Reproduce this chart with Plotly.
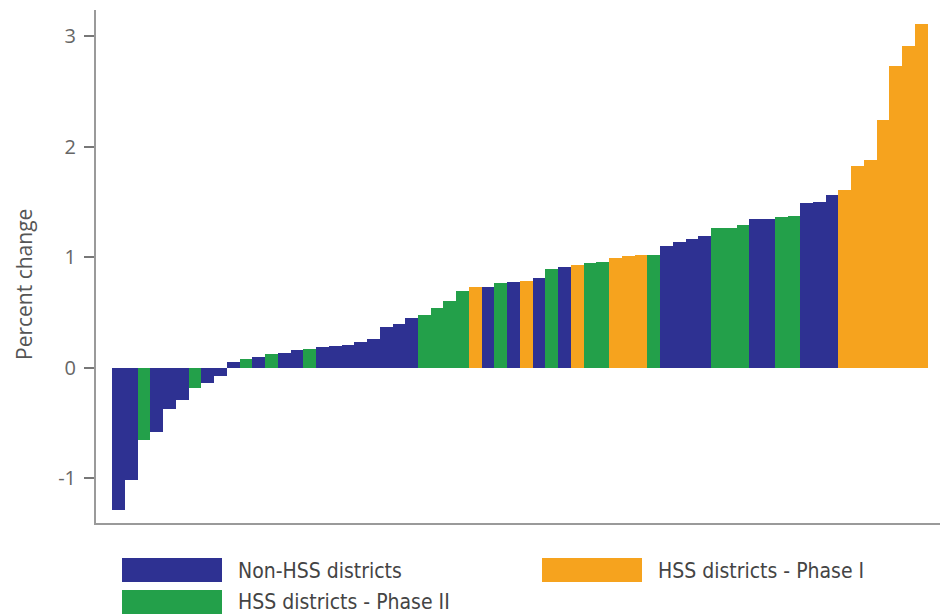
import plotly.graph_objects as go

# Percent change per district, sorted ascending
values = [-1.29, -1.02, -0.65, -0.58, -0.37, -0.29, -0.18, -0.14, -0.075,
          0.05, 0.08, 0.10, 0.125, 0.135, 0.157, 0.172, 0.187, 0.199, 0.208,
          0.229, 0.262, 0.371, 0.396, 0.445, 0.48, 0.537, 0.60, 0.69, 0.727,
          0.732, 0.77, 0.772, 0.78, 0.81, 0.89, 0.91, 0.93, 0.95, 0.953,
          0.989, 1.007, 1.017, 1.022, 1.098, 1.14, 1.16, 1.19, 1.26, 1.262,
          1.288, 1.342, 1.346, 1.36, 1.37, 1.487, 1.50, 1.56, 1.61, 1.824,
          1.88, 2.24, 2.73, 2.91, 3.11]

# N = Non-HSS, P2 = HSS Phase II, P1 = HSS Phase I
groups = ["N", "N", "P2", "N", "N", "N", "P2", "N", "N", "N", "P2", "N", "P2",
          "N", "N", "P2", "N", "N", "N", "N", "N", "N", "N", "N", "P2", "P2",
          "P2", "P2", "P1", "N", "P2", "N", "P1", "N", "P2", "N", "P1", "P2",
          "P2", "P1", "P1", "P1", "P2", "N", "N", "N", "N", "P2", "P2", "P2",
          "N", "N", "P2", "P2", "N", "N", "N", "P1", "P1", "P1", "P1", "P1",
          "P1", "P1"]

series_names = {"N": "Non-HSS districts", "P1": "HSS districts - Phase I",
                "P2": "HSS districts - Phase II"}
colors = {"N": "#2E3192", "P1": "#F6A31E", "P2": "#23A04A"}

y_ticks = [-1, 0, 1, 2, 3]

fig = go.Figure()
for g in ["N", "P2", "P1"]:
    xs = [i for i, gg in enumerate(groups) if gg == g]
    ys = [values[i] for i in xs]
    fig.add_trace(go.Bar(x=xs, y=ys, name=series_names[g], width=1.0,
                         marker=dict(color=colors[g], line=dict(width=0)),
                         showlegend=False))

# page has an 8px body margin
OFF = 8
W, H = 940, 606
ml, mr, mt, mb = 88, 3, 2, 91
pw, ph = W - ml - mr, H - mt - mb

def px_to_paper(xp, yp):
    return (xp - OFF - ml) / pw, (H - mb - (yp - OFF)) / ph

legend_pos = {"N": (122, 558), "P1": (542, 558), "P2": (122, 590)}
text_mid = {"N": 571, "P1": 571, "P2": 602}
shapes = []
annotations = []
for g in ["N", "P1", "P2"]:
    x0, y0 = legend_pos[g]
    ax0, ay0 = px_to_paper(x0, y0)
    ax1, ay1 = px_to_paper(x0 + 100, y0 + 24)
    shapes.append(dict(type="rect", xref="paper", yref="paper",
                       x0=ax0, x1=ax1, y0=ay1, y1=ay0,
                       fillcolor=colors[g], line=dict(width=0)))
    tx, ty = px_to_paper(x0 + 114, text_mid[g])
    annotations.append(dict(xref="paper", yref="paper", x=tx, y=ty,
                            text=series_names[g], showarrow=False,
                            xanchor="left", yanchor="middle",
                            font=dict(size=21, color="#444444",
                                      family="Liberation Sans Narrow, DejaVu Sans Condensed, sans-serif")))

# y-axis title
tx, ty = px_to_paper(24, 285)
annotations.append(dict(xref="paper", yref="paper", x=tx, y=ty,
                        text="Percent change", showarrow=False, textangle=-90,
                        xanchor="center", yanchor="middle",
                        font=dict(size=21, color="#555555",
                                  family="Open Sans, sans-serif")))

fig.update_layout(
    width=W, height=H,
    margin=dict(l=ml, r=mr, t=mt, b=mb),
    plot_bgcolor="white", paper_bgcolor="white",
    barmode="overlay", bargap=0,
    shapes=shapes, annotations=annotations,
    font=dict(family="Open Sans, sans-serif", color="#555555"),
)
fig.update_xaxes(range=[-1.77, 64.86], showticklabels=False, ticks="",
                 showgrid=False, zeroline=False, showline=True,
                 linecolor="#9a9a9a", linewidth=2)
fig.update_yaxes(range=[-1.405, 3.235], tickvals=y_ticks,
                 ticktext=[str(v) for v in y_ticks],
                 ticks="outside", ticklen=10, tickcolor="#777777", tickwidth=1.5,
                 ticklabelstandoff=4,
                 showgrid=False, zeroline=False, showline=True,
                 linecolor="#9a9a9a", linewidth=2,
                 tickfont=dict(size=20, color="#666666", family="Open Sans, sans-serif"))

fig.write_html("out.html")
